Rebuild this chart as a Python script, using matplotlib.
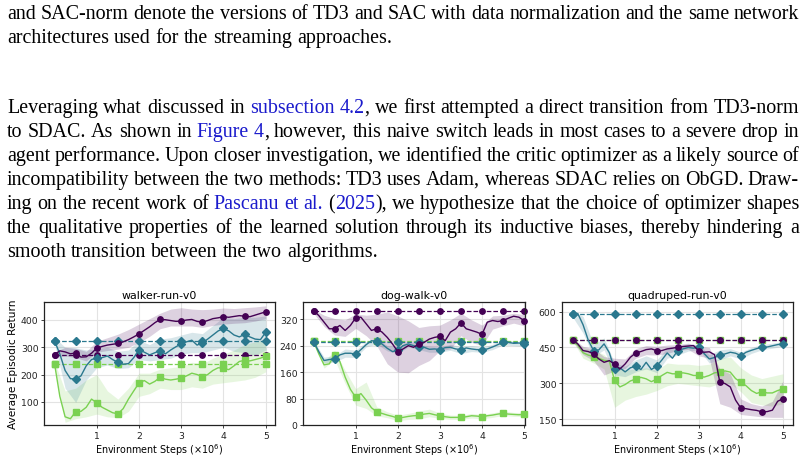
import numpy as np
import matplotlib
matplotlib.use("Agg")
import matplotlib.pyplot as plt

W, H = 806, 460
SERIF = "Liberation Serif"
TEXT_FS = 14.4
LINK = "#1a1acc"

# ---- page text ({...} marks the blue link pieces) ----
TOP_LINES = [
    "and SAC-norm denote the versions of TD3 and SAC with data normalization and the same network",
    "architectures used for the streaming approaches.",
]
PARA_LINES = [
    "Leveraging what discussed in {subsection} {4.2}, we first attempted a direct transition from TD3-norm",
    "to SDAC. As shown in {Figure} {4}, however, this naive switch leads in most cases to a severe drop in",
    "agent performance. Upon closer investigation, we identified the critic optimizer as a likely source of",
    "incompatibility between the two methods: TD3 uses Adam, whereas SDAC relies on ObGD. Draw-",
    "ing on the recent work of {Pascanu} {et} {al.} ({2025}), we hypothesize that the choice of optimizer shapes",
    "the qualitative properties of the learned solution through its inductive biases, thereby hindering a",
    "smooth transition between the two algorithms.",
]

# ---- chart data ----
steps = np.linspace(0, 5, 41)
band_steps = np.linspace(0, 5, 21)

titles = ["walker-run-v0", "dog-walk-v0", "quadruped-run-v0"]

# walker-run
walker_purple = [273, 287, 283, 276, 279, 264, 265, 278, 297, 303, 308, 311, 314, 320, 328, 338, 349, 362, 375, 390, 402,
                 401, 398, 395, 396, 400, 402, 395, 392, 398, 405, 408, 412, 410, 413, 416, 414, 412, 418, 424, 430]
walker_teal = [324, 275, 215, 185, 183, 195, 232, 255, 261, 262, 268, 255, 245, 238, 240, 262, 291, 282, 272, 280, 288,
               276, 290, 302, 312, 320, 326, 308, 316, 330, 345, 360, 369, 360, 345, 338, 347, 338, 330, 328, 355]
walker_green = [239, 120, 45, 38, 64, 65, 80, 110, 96, 80, 70, 60, 56, 75, 110, 140, 169, 178, 165, 175, 190,
                183, 180, 183, 187, 195, 205, 200, 192, 200, 215, 225, 223, 218, 232, 248, 252, 250, 255, 260, 268]
walker_purple_lo = [265, 268, 262, 250, 282, 288, 293, 300, 318, 340, 368, 378, 378, 378, 373, 380, 385, 388, 390, 396, 405]
walker_purple_hi = [282, 300, 296, 285, 322, 335, 348, 365, 385, 405, 425, 440, 445, 440, 438, 440, 444, 442, 445, 448, 452]
walker_teal_lo = [312, 150, 98, 180, 225, 235, 222, 225, 255, 250, 255, 260, 275, 280, 280, 290, 300, 285, 280, 270, 290]
walker_teal_hi = [336, 300, 298, 290, 295, 300, 285, 290, 325, 310, 330, 335, 345, 355, 350, 380, 410, 405, 410, 410, 415]
walker_green_lo = [232, 25, 38, 45, 55, 45, 42, 65, 120, 130, 150, 145, 145, 155, 150, 165, 170, 175, 180, 190, 210]
walker_green_hi = [246, 140, 150, 180, 200, 140, 110, 150, 205, 205, 220, 225, 230, 245, 240, 260, 275, 290, 310, 320, 330]
walker_base = {"purple": 273, "teal": 324, "green": 238}

# dog-walk
dog_purple = [346, 331, 311, 291, 291, 301, 286, 301, 324, 326, 306, 286, 291, 281, 265, 245, 222, 230, 240, 235, 245,
              250, 260, 265, 268, 255, 281, 291, 309, 291, 286, 281, 274, 311, 316, 313, 316, 323, 329, 326, 316]
dog_teal = [252, 222, 195, 198, 200, 212, 217, 217, 214, 228, 243, 255, 253, 245, 232, 222, 226, 240, 245, 240, 236,
            235, 229, 230, 228, 234, 235, 230, 228, 233, 230, 228, 228, 230, 236, 243, 250, 250, 247, 248, 245]
dog_green = [253, 215, 182, 185, 213, 192, 145, 108, 84, 95, 75, 52, 40, 35, 30, 26, 21, 23, 26, 28, 29,
             33, 35, 31, 28, 25, 23, 23, 23, 25, 28, 27, 25, 28, 30, 33, 35, 33, 32, 31, 32]
dog_purple_lo = [338, 298, 272, 268, 292, 270, 240, 185, 160, 158, 180, 195, 225, 230, 270, 250, 240, 290, 300, 308, 300]
dog_purple_hi = [350, 332, 322, 318, 336, 332, 335, 342, 330, 315, 295, 300, 302, 318, 338, 318, 302, 330, 332, 338, 334]
dog_teal_lo = [248, 188, 190, 205, 204, 236, 245, 224, 216, 236, 228, 220, 220, 226, 216, 222, 220, 228, 242, 240, 238]
dog_teal_hi = [256, 205, 210, 230, 226, 252, 262, 240, 236, 254, 244, 238, 236, 244, 238, 240, 236, 244, 258, 254, 252]
dog_green_lo = [249, 172, 198, 125, 60, 50, 28, 22, 13, 17, 18, 25, 20, 17, 17, 21, 19, 23, 29, 26, 26]
dog_green_hi = [257, 192, 226, 165, 110, 130, 55, 40, 30, 35, 42, 48, 36, 30, 29, 35, 31, 37, 42, 38, 38]
dog_base = {"purple": 346, "teal": 252, "green": 254}

# quadruped-run
quad_purple = [482, 465, 437, 433, 423, 402, 388, 395, 381, 360, 381, 409, 427, 433, 441, 444, 437, 437, 444, 447, 451,
               454, 456, 458, 436, 430, 432, 420, 306, 299, 285, 230, 197, 194, 190, 187, 181, 182, 188, 225, 236]
quad_teal = [590, 592, 545, 480, 437, 440, 465, 428, 358, 365, 348, 365, 372, 358, 388, 358, 372, 398, 427, 405, 437,
             444, 450, 447, 451, 425, 402, 408, 418, 423, 430, 426, 416, 430, 438, 445, 451, 452, 457, 462, 465]
quad_green = [482, 460, 428, 418, 412, 405, 396, 393, 312, 285, 295, 310, 318, 325, 319, 307, 318, 333, 346, 340, 340,
              344, 340, 333, 333, 326, 333, 344, 347, 352, 347, 320, 305, 290, 270, 258, 265, 260, 260, 270, 277]
quad_purple_lo = [476, 420, 395, 335, 352, 362, 405, 420, 418, 425, 438, 442, 415, 405, 215, 200, 170, 165, 160, 158, 158]
quad_purple_hi = [488, 455, 445, 412, 405, 402, 445, 458, 455, 460, 462, 468, 455, 450, 360, 340, 235, 215, 205, 225, 310]
quad_teal_lo = [578, 510, 412, 440, 335, 328, 348, 360, 345, 405, 418, 435, 440, 385, 398, 415, 402, 425, 440, 447, 455]
quad_teal_hi = [605, 580, 462, 490, 385, 372, 398, 415, 398, 448, 455, 465, 462, 420, 440, 445, 430, 450, 462, 468, 475]
quad_green_lo = [478, 405, 385, 360, 200, 230, 245, 255, 270, 290, 300, 295, 290, 285, 300, 300, 265, 220, 210, 205, 215]
quad_green_hi = [490, 450, 440, 420, 370, 355, 360, 365, 355, 385, 380, 380, 375, 380, 405, 410, 365, 335, 320, 330, 340]
quad_base = {"purple": 482, "teal": 590, "green": 482}

COLORS = {"purple": "#440154", "teal": "#2a788e", "green": "#7ad151"}
MARKERS = {"purple": "o", "teal": "D", "green": "s"}


def box(l, t, r, b):
    return [l / W, 1 - b / H, (r - l) / W, (b - t) / H]


def parse_word(word):
    out, buf, blue = [], "", False
    for ch in word:
        if ch in "{}":
            if buf:
                out.append((buf, blue))
            buf = ""
            blue = ch == "{"
        else:
            buf += ch
    if buf:
        out.append((buf, blue))
    return out


def put_line(fig, renderer, line, baseline, justify, x0=7, x1=799):
    words = [parse_word(w) for w in line.split(" ")]
    items, widths = [], []
    for pieces in words:
        texts, wsum = [], 0
        for txt, blue in pieces:
            t = fig.text(0, 0, txt, fontsize=TEXT_FS, family=SERIF,
                         color=LINK if blue else "black", va="baseline", ha="left")
            w = t.get_window_extent(renderer).width
            texts.append((t, w))
            wsum += w
        items.append(texts)
        widths.append(wsum)
    if justify:
        gap = (x1 - x0 - sum(widths)) / (len(words) - 1)
    else:
        gap = TEXT_FS * 100 / 72 * 0.25
    x = x0
    for texts, wsum in zip(items, widths):
        px = x
        for t, w in texts:
            t.set_position((px / W, 1 - baseline / H))
            px += w
        x += wsum + gap


def draw_panel(ax, title, series, base, ylim, yticks, xmax):
    for key, mean, lo, hi in series:
        ax.fill_between(band_steps, lo, hi, color=COLORS[key], alpha=0.18, lw=0, zorder=1)
    for key, mean, lo, hi in series:
        ax.plot(steps, mean, color=COLORS[key], lw=1.0, marker=MARKERS[key], markevery=4,
                ms=3.9, zorder=3, clip_on=False)
    for key, mean, lo, hi in series:
        ax.plot(steps, np.full(len(steps), base[key]), color=COLORS[key], lw=0.9, ls="--",
                marker=MARKERS[key], markevery=4, ms=3.9, zorder=2, clip_on=False)
    ax.set_xlim(-0.25, xmax)
    ax.set_ylim(*ylim)
    ax.set_xticks([1, 2, 3, 4, 5])
    ax.set_yticks(yticks)
    ax.grid(True, color="#e3e3e3", lw=0.8)
    ax.set_axisbelow(True)
    for s in ax.spines.values():
        s.set_color("#222222")
        s.set_linewidth(0.9)
    ax.tick_params(labelsize=6.7, length=2.5, width=0.6, pad=1.5, colors="#222222")
    ax.set_title(title, fontsize=7.9, pad=3)
    ax.set_xlabel(r"Environment Steps ($\times 10^6$)", fontsize=6.9, labelpad=1)


fig = plt.figure(figsize=(W / 100, H / 100), dpi=100)
renderer = fig.canvas.get_renderer()

put_line(fig, renderer, TOP_LINES[0], 19, True)
put_line(fig, renderer, TOP_LINES[1], 43, False)
for i, line in enumerate(PARA_LINES):
    put_line(fig, renderer, line, 113 + 24 * i, i < len(PARA_LINES) - 1)

ax1 = fig.add_axes(box(44, 303, 275, 426))
ax2 = fig.add_axes(box(303, 303, 525, 426))
ax3 = fig.add_axes(box(562, 303, 793, 426))

draw_panel(ax1, titles[0], [
    ("green", walker_green, walker_green_lo, walker_green_hi),
    ("teal", walker_teal, walker_teal_lo, walker_teal_hi),
    ("purple", walker_purple, walker_purple_lo, walker_purple_hi),
], walker_base, (15, 466), [100, 200, 300, 400], 5.22)

draw_panel(ax2, titles[1], [
    ("green", dog_green, dog_green_lo, dog_green_hi),
    ("teal", dog_teal, dog_teal_lo, dog_teal_hi),
    ("purple", dog_purple, dog_purple_lo, dog_purple_hi),
], dog_base, (0, 372), [0, 80, 160, 240, 320], 5.02)

draw_panel(ax3, titles[2], [
    ("green", quad_green, quad_green_lo, quad_green_hi),
    ("teal", quad_teal, quad_teal_lo, quad_teal_hi),
    ("purple", quad_purple, quad_purple_lo, quad_purple_hi),
], quad_base, (126, 640), [150, 300, 450, 600], 5.24)

ax1.set_ylabel("Average Episodic Return", fontsize=7.6, labelpad=2)

fig.savefig("out.png", dpi=100)
